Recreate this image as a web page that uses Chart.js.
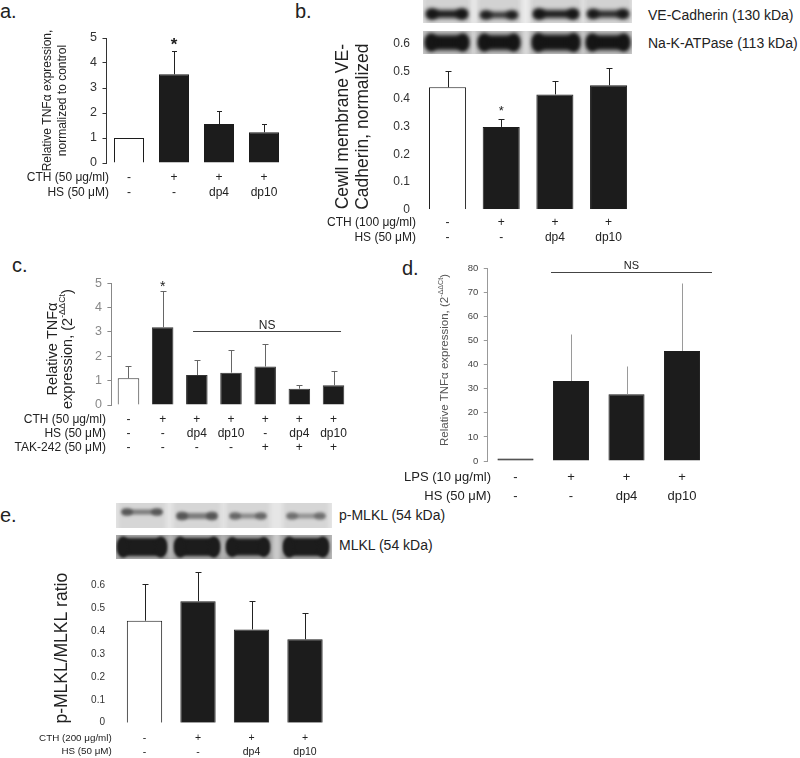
<!DOCTYPE html>
<html>
<head>
<meta charset="utf-8">
<script src="https://cdn.jsdelivr.net/npm/chart.js@4.4.1/dist/chart.umd.min.js"></script>
<style>
  body { margin: 0; background: #fff; width: 800px; height: 758px; position: relative; overflow: hidden;
         font-family: Arial, 'Liberation Sans', sans-serif; color: #222; }
  canvas { position: absolute; }
  .t { position: absolute; white-space: nowrap; }
  .letter { font-size: 20px; line-height: 20px; }
  .band { font-size: 14px; line-height: 14px; }
</style>
</head>
<body>
<div class="t letter" style="left:0;top:1px">a.</div>
<div class="t letter" style="left:295px;top:1px">b.</div>
<div class="t letter" style="left:12px;top:255px">c.</div>
<div class="t letter" style="left:402px;top:258px">d.</div>
<div class="t letter" style="left:0;top:505px">e.</div>
<div class="t band" style="left:648px;top:7.5px">VE-Cadherin (130 kDa)</div>
<div class="t band" style="left:648px;top:35.5px">Na-K-ATPase (113 kDa)</div>
<div class="t band" style="left:339px;top:508px">p-MLKL (54 kDa)</div>
<div class="t band" style="left:339px;top:538px">MLKL (54 kDa)</div>
<script>
// a. TNFa after CTH
const cthA = ['-', '+', '+', '+'];
const hsA = ['-', '-', 'dp4', 'dp10'];
const tnfA = [1.0, 3.55, 1.56, 1.23];
const semA = [0, 0.94, 0.53, 0.32];

// b. membrane VE-cadherin
const cthB = ['-', '+', '+', '+'];
const hsB = ['-', '-', 'dp4', 'dp10'];
const veB = [0.443, 0.299, 0.417, 0.450];
const semB = [0.058, 0.028, 0.050, 0.062];

// c. TNFa with TAK-242
const cthC = ['-', '+', '+', '+', '+', '+', '+'];
const hsC = ['-', '-', 'dp4', 'dp10', '-', 'dp4', 'dp10'];
const takC = ['-', '-', '-', '-', '+', '+', '+'];
const tnfC = [1.10, 3.19, 1.23, 1.33, 1.58, 0.67, 0.81];
const semC = [0.50, 1.49, 0.62, 0.93, 0.91, 0.15, 0.59];

// d. TNFa after LPS
const lpsD = ['-', '+', '+', '+'];
const hsD = ['-', '-', 'dp4', 'dp10'];
const tnfD = [1.0, 33.2, 27.7, 45.7];
const semD = [0, 19.4, 11.7, 28.1];

// e. p-MLKL / MLKL
const cthE = ['-', '+', '+', '+'];
const hsE = ['-', '-', 'dp4', 'dp10'];
const ratioE = [0.445, 0.530, 0.407, 0.364];
const semE = [0.162, 0.127, 0.123, 0.116];

const fam = "Arial, 'Liberation Sans', sans-serif";
Chart.defaults.font.family = fam;
Chart.defaults.color = '#222';

const rows = (...cols) => cols[0].map((_, i) => cols.map((c) => c[i]));

const errBars = {
  id: 'errBars',
  afterDatasetsDraw(chart, args, o) {
    const {ctx, scales: {x, y}} = chart;
    const vals = chart.data.datasets[0].data;
    ctx.save();
    ctx.strokeStyle = o.color;
    ctx.lineWidth = 1;
    vals.forEach((v, i) => {
      if (!o.sem[i]) return;
      const px = Math.round(x.getPixelForValue(i)) + 0.5;
      const y0 = y.getPixelForValue(v);
      const y1 = Math.round(y.getPixelForValue(v + o.sem[i])) + 0.5;
      ctx.beginPath();
      ctx.moveTo(px, y0);
      ctx.lineTo(px, y1);
      if (o.cap) {
        ctx.moveTo(px - o.cap, y1);
        ctx.lineTo(px + o.cap, y1);
      }
      ctx.stroke();
    });
    ctx.restore();
  }
};

const rowTitles = {
  id: 'rowTitles',
  afterDraw(chart, args, o) {
    const {ctx} = chart;
    const top = chart.scales.x.top;
    ctx.save();
    ctx.font = o.size + 'px ' + fam;
    ctx.fillStyle = '#222';
    ctx.textAlign = 'right';
    ctx.textBaseline = 'middle';
    o.text.forEach((t, i) => ctx.fillText(t, o.right, top + o.pad + o.gap * (i + 0.5)));
    ctx.restore();
  }
};

const marks = {
  id: 'marks',
  afterDraw(chart, args, o) {
    const {ctx, scales: {x, y}} = chart;
    const vals = chart.data.datasets[0].data;
    const sem = chart.options.plugins.errBars.sem;
    ctx.save();
    ctx.textAlign = 'center';
    ctx.textBaseline = 'alphabetic';
    (o.stars || []).forEach((s) => {
      ctx.font = (s.bold ? 'bold ' : '') + s.size + 'px ' + fam;
      ctx.fillStyle = '#222';
      ctx.fillText('*', x.getPixelForValue(s.i), y.getPixelForValue(vals[s.i] + sem[s.i]) + s.dy);
    });
    (o.ns || []).forEach((n) => {
      const x1 = x.getPixelForValue(n.from);
      const x2 = x.getPixelForValue(n.to);
      const py = Math.round(y.getPixelForValue(n.y)) + 0.5;
      ctx.strokeStyle = n.color;
      ctx.lineWidth = 1;
      ctx.beginPath();
      ctx.moveTo(x1, py);
      ctx.lineTo(x2, py);
      ctx.stroke();
      ctx.font = n.size + 'px ' + fam;
      ctx.fillStyle = '#222';
      ctx.fillText('NS', (x1 + x2) / 2, py - n.gap);
    });
    ctx.restore();
  }
};

// rotated axis title with superscript parts
const sideTitle = {
  id: 'sideTitle',
  afterDraw(chart, args, o) {
    if (!o.lines) return;
    const {ctx} = chart;
    const f = (s) => (s.sup ? o.size * 0.62 : o.size) + 'px ' + fam;
    ctx.save();
    ctx.fillStyle = o.color;
    ctx.textBaseline = 'middle';
    ctx.textAlign = 'left';
    o.lines.forEach((segs, j) => {
      ctx.save();
      ctx.translate(o.x + j * o.gap, o.y);
      ctx.rotate(-Math.PI / 2);
      let total = 0;
      segs.forEach((s) => { ctx.font = f(s); total += ctx.measureText(s.t).width; });
      let cx = -total / 2;
      segs.forEach((s) => {
        ctx.font = f(s);
        ctx.fillText(s.t, cx, s.sup ? -o.size * 0.38 : 0);
        cx += ctx.measureText(s.t).width;
      });
      ctx.restore();
    });
    ctx.restore();
  }
};

const addCanvas = (left, top, w, h) => {
  const c = document.createElement('canvas');
  c.width = w;
  c.height = h;
  c.style.left = left + 'px';
  c.style.top = top + 'px';
  c.style.width = w + 'px';
  c.style.height = h + 'px';
  document.body.appendChild(c);
  return c;
};

const barPanel = (p) => {
  const cv = addCanvas(p.box[0], p.box[1], p.box[2], p.box[3]);
  const ticked = !!p.axisColor;
  return new Chart(cv, {
    type: 'bar',
    data: {
      labels: p.labels,
      datasets: [{
        data: p.values,
        backgroundColor: p.values.map((v, i) => (i === 0 && p.firstWhite ? '#ffffff' : '#1c1c1c')),
        borderColor: p.edge || '#1c1c1c',
        borderWidth: 1,
        barPercentage: p.barPct,
        categoryPercentage: 1,
      }]
    },
    options: {
      responsive: false,
      animation: false,
      devicePixelRatio: 1,
      layout: {padding: p.pad},
      plugins: {
        legend: {display: false},
        tooltip: {enabled: false},
        errBars: {sem: p.sem, color: p.errColor || '#222', cap: p.cap},
        rowTitles: {text: p.rowText, right: p.rowRight, size: p.rowFont || p.xFont, pad: p.xPad, gap: p.rowGap},
        marks: {stars: p.stars, ns: p.ns},
        sideTitle: p.side || {},
      },
      scales: {
        x: {
          offset: true,
          grid: {display: false, drawTicks: false},
          border: {display: false},
          ticks: {
            color: '#222', autoSkip: false, maxRotation: 0, minRotation: 0,
            padding: p.xPad, font: {size: p.xFont, lineHeight: p.rowGap + 'px'}
          },
          afterFit: (s) => { s.height = p.xH; }
        },
        y: {
          min: 0,
          max: p.yMax,
          ticks: {stepSize: p.step, includeBounds: false, color: p.tickColor || '#333', padding: p.yPad, font: {size: p.yFont}},
          grid: ticked
            ? {display: true, drawOnChartArea: false, drawTicks: true, tickLength: 4, color: p.axisColor}
            : {display: false, drawTicks: false},
          border: {display: ticked, color: p.axisColor},
          title: p.title || {display: false},
          afterFit: (s) => { s.width = p.yW; }
        }
      }
    },
    plugins: [errBars, marks, rowTitles, sideTitle]
  });
};

// a.
barPanel({
  box: [0, 0, 300, 205],
  pad: {left: 0, top: 38, right: 13.5, bottom: 0},
  labels: rows(cthA, hsA), values: tnfA, sem: semA, firstWhite: true, barPct: 0.667, cap: 2.5,
  yMax: 5, step: 1, yW: 106.5, yPad: 5.5, yFont: 12.5, axisColor: '#333',
  xH: 42, xPad: 7.5, xFont: 12, rowGap: 15,
  rowText: ['CTH (50 μg/ml)', 'HS (50 μM)'], rowRight: 109,
  stars: [{i: 1, size: 17, dy: -1, bold: true}],
  title: {display: true, text: ['Relative TNFα expression,', 'normalized to control'], color: '#222',
    font: {size: 12, lineHeight: '14.5px'}, padding: {top: 40.75, bottom: 0}}
});

// b.
barPanel({
  box: [300, 0, 345, 250],
  pad: {left: 0, top: 44, right: 9.6, bottom: 0},
  labels: rows(cthB, hsB), values: veB, sem: semB, firstWhite: true, barPct: 0.69, cap: 3,
  yMax: 0.6, step: 0.1, yW: 120.7, yPad: 10.7, yFont: 12,
  xH: 40.7, xPad: 5.9, xFont: 12, rowGap: 15,
  rowText: ['CTH (100 μg/ml)', 'HS (50 μM)'], rowRight: 116,
  stars: [{i: 1, size: 13, dy: -4}],
  title: {display: true, text: ['Cewll membrane VE-', 'Cadherin, normalized'], color: '#222',
    font: {size: 17.5, lineHeight: '20px'}, padding: {top: 33, bottom: 0}}
});

// c.
barPanel({
  box: [0, 250, 370, 215],
  pad: {left: 0, top: 33.3, right: 19.4, bottom: 0},
  labels: rows(cthC, hsC, takC), values: tnfC, sem: semC, firstWhite: true, edge: '#333', barPct: 0.63,
  errColor: '#666', cap: 3,
  yMax: 5, step: 1, yW: 111.4, yPad: 5.4, yFont: 12.5, axisColor: '#888', tickColor: '#888',
  xH: 60, xPad: 8, xFont: 12, rowGap: 14,
  rowText: ['CTH (50 μg/ml)', 'HS (50 μM)', 'TAK-242 (50 μM)'], rowRight: 106,
  stars: [{i: 1, size: 14, dy: 0}],
  ns: [{from: 1.89, to: 6.22, y: 3.05, size: 12, gap: 2.4, color: '#444'}],
  side: {x: 53, y: 99, gap: 15, size: 14.5, color: '#222',
    lines: [[{t: 'Relative TNFα'}], [{t: 'expression, (2'}, {t: '-ΔΔCt', sup: true}, {t: ')'}]]}
});

// d.
barPanel({
  box: [380, 250, 350, 260],
  pad: {left: 0, top: 18.3, right: 20.25, bottom: 0},
  labels: rows(lpsD, hsD), values: tnfD, sem: semD, firstWhite: false, barPct: 0.65,
  errColor: '#9a9a9a', cap: 0,
  yMax: 80, step: 10, yW: 107.75, yPad: 5.5, yFont: 9.5, axisColor: '#999', tickColor: '#444',
  xH: 49, xPad: 7.5, xFont: 13, rowGap: 18.3,
  rowText: ['LPS (10 μg/ml)', 'HS (50 μM)'], rowRight: 111,
  ns: [{from: 0.64, to: 3.54, y: 78.5, size: 11, gap: 3.7, color: '#444'}],
  side: {x: 65, y: 110, gap: 0, size: 11.5, color: '#555',
    lines: [[{t: 'Relative TNFα expression, (2'}, {t: '-ΔΔCt', sup: true}, {t: ')'}]]}
});

// e.
barPanel({
  box: [0, 555, 345, 203],
  pad: {left: 0, top: 16, right: 13.25, bottom: 0},
  labels: rows(cthE, hsE), values: ratioE, sem: semE, firstWhite: true, barPct: 0.66, cap: 3,
  yMax: 0.65, step: 0.1, yW: 117.75, yPad: 12.75, yFont: 10,
  xH: 35.3, xPad: 8.45, xFont: 10.5, rowFont: 9.8, rowGap: 13.7,
  rowText: ['CTH (200 μg/ml)', 'HS (50 μM)'], rowRight: 111.7,
  title: {display: true, text: 'p-MLKL/MLKL ratio', color: '#222',
    font: {size: 17.5, lineHeight: '21px'}, padding: {top: 51.5, bottom: 0}}
});

// western blot strips
const blot = (ctx, r, lanes, st) => {
  ctx.fillStyle = st.gap;
  ctx.fillRect(r.x, r.y, r.w, r.h);
  ctx.save();
  ctx.beginPath();
  ctx.rect(r.x, r.y, r.w, r.h);
  ctx.clip();
  ctx.filter = 'blur(2px)';
  lanes.forEach((l) => {
    ctx.fillStyle = st.bg;
    ctx.fillRect(l.c - l.w / 2 - 4, r.y - 4, l.w + 8, r.h + 8);
  });
  ctx.filter = 'blur(' + st.blur + 'px)';
  lanes.forEach((l) => {
    ctx.globalAlpha = l.a;
    ctx.fillStyle = st.band;
    ctx.beginPath();
    ctx.roundRect(l.c - l.w / 2, r.y + l.y - l.h / 2, l.w, l.h, l.h / 3);
    ctx.fill();
    // darker blobs at both lane ends
    ctx.beginPath();
    ctx.ellipse(l.c - l.w / 2 + 5, r.y + l.y, 6, l.h / 2 + 1.5, 0, 0, Math.PI * 2);
    ctx.ellipse(l.c + l.w / 2 - 5, r.y + l.y, 6, l.h / 2 + 1.5, 0, 0, Math.PI * 2);
    ctx.fill();
  });
  ctx.restore();
};

const bctx = addCanvas(420, 0, 216, 56).getContext('2d');
blot(bctx, {x: 3, y: 0, w: 209, h: 23}, [
  {c: 27, w: 40, y: 14, h: 8, a: 0.95},
  {c: 79, w: 36, y: 15, h: 6, a: 0.85},
  {c: 136, w: 44, y: 14, h: 8, a: 0.95},
  {c: 188, w: 40, y: 14, h: 7, a: 0.9},
], {gap: '#ebebeb', bg: '#d2d2d2', band: '#151515', blur: 2.2});
blot(bctx, {x: 3, y: 31, w: 209, h: 23}, [
  {c: 27, w: 42, y: 11.5, h: 15, a: 1},
  {c: 79, w: 40, y: 11.5, h: 15, a: 1},
  {c: 136, w: 46, y: 11.5, h: 16, a: 1},
  {c: 188, w: 42, y: 11.5, h: 15, a: 1},
], {gap: '#dedede', bg: '#bdbdbd', band: '#151515', blur: 2});

const ectx = addCanvas(114, 500, 220, 62).getContext('2d');
blot(ectx, {x: 2, y: 3, w: 216, h: 25}, [
  {c: 28, w: 40, y: 9, h: 5, a: 0.55},
  {c: 83, w: 40, y: 13, h: 6, a: 0.55},
  {c: 134, w: 36, y: 13, h: 5, a: 0.45},
  {c: 192, w: 38, y: 13, h: 5, a: 0.4},
], {gap: '#e6e6e6', bg: '#d6d6d6', band: '#333333', blur: 1.8});
blot(ectx, {x: 2, y: 35, w: 216, h: 24}, [
  {c: 28, w: 48, y: 12, h: 18, a: 1},
  {c: 83, w: 44, y: 12, h: 18, a: 1},
  {c: 134, w: 42, y: 12, h: 17, a: 1},
  {c: 192, w: 44, y: 12, h: 18, a: 1},
], {gap: '#cfcfcf', bg: '#a4a4a4', band: '#1c1c1c', blur: 1.8});
</script>
</body>
</html>
